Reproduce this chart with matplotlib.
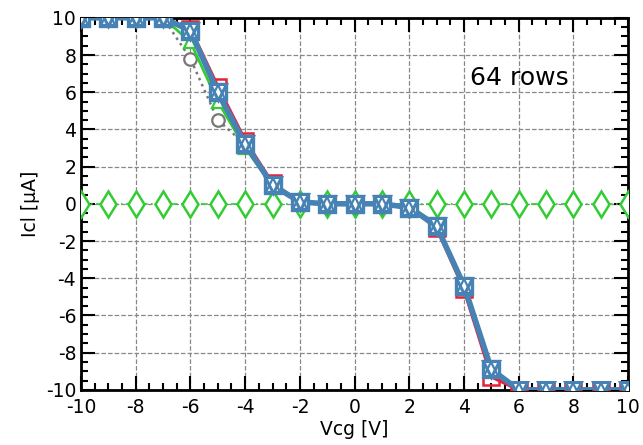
import matplotlib
matplotlib.use("Agg")
import matplotlib.pyplot as plt
from matplotlib.ticker import MultipleLocator
import numpy as np

plt.rcParams["axes.unicode_minus"] = False

vcg = [-10, -9, -8, -7, -6, -5, -4, -3, -2, -1, 0, 1, 2, 3, 4, 5, 6, 7, 8, 9, 10]
icl_red = [10, 10, 10, 10, 9.4, 6.3, 3.4, 1.1, 0.1, 0, 0, 0, -0.2, -1.3, -4.6, -9.3, -10, -10, -10, -10, -10]
icl_green = [10, 10, 10, 10, 8.7, 5.5, 3.0, 1.0, 0.1, 0, 0, 0, -0.1, -1.1, -4.3, -8.9, -10, -10, -10, -10, -10]
icl_gray = [10, 10, 10, 10, 7.8, 4.5, 3.2, 1.0, 0.1, 0, 0, 0, -0.2, -1.2, -4.4, -8.9, -10, -10, -10, -10, -10]
icl_blue = [10, 10, 10, 10, 9.3, 6.0, 3.2, 1.0, 0.1, 0, 0, 0, -0.2, -1.2, -4.4, -8.9, -10, -10, -10, -10, -10]
icl_blue_sq = [10, 10, 10, 10, 9.3, 6.0, 3.2, 1.0, 0.1, 0, 0, 0, -0.2, -1.2, -4.4, -8.9, None, None, None, None, None]
icl_zero = [0] * 21

sq = np.array([np.nan if v is None else v for v in icl_blue_sq], dtype=float)

fig = plt.figure(figsize=(6.43, 4.45), dpi=100)
ax = fig.add_axes([0.126, 0.124, 0.851, 0.836])

ax.plot(vcg, icl_zero, color="#33cc33", ls=(0, (4, 2, 1, 2)), lw=1.2, marker="d",
        ms=13, mfc="white", mec="#33cc33", mew=1.8, zorder=3)
ax.plot(vcg, icl_gray, color="#777777", ls=":", lw=1.8, marker="o",
        ms=9, mfc="white", mec="#777777", mew=1.6, zorder=3)
ax.plot(vcg, icl_red, color="#e8203a", lw=2.5, marker="s",
        ms=11, mfc="none", mec="#e8203a", mew=1.8, zorder=4)
ax.plot(vcg, icl_green, color="#33cc33", lw=2.0, marker="^",
        ms=9, mfc="white", mec="#33cc33", mew=1.6, zorder=4)
ax.plot(vcg, icl_blue, color="#4682b4", lw=4.0, zorder=5)
ax.plot(vcg, sq, lw=0, marker="s",
        ms=12, mfc="white", mec="#4682b4", mew=2.4, zorder=6)
ax.plot(vcg, icl_blue, lw=0, marker="v",
        ms=11, mfc="white", mec="#4682b4", mew=2.2, zorder=7)
ax.plot(vcg, icl_blue, lw=0, marker="^",
        ms=10, mfc="none", mec="#4682b4", mew=1.6, zorder=7)

ax.set_xlim(-10, 10)
ax.set_ylim(-10, 10)
ax.xaxis.set_major_locator(MultipleLocator(2))
ax.xaxis.set_minor_locator(MultipleLocator(0.5))
ax.yaxis.set_major_locator(MultipleLocator(2))
ax.yaxis.set_minor_locator(MultipleLocator(0.5))
ax.tick_params(which="both", direction="in", top=True, right=True, labelsize=13.5, width=1.5)
ax.tick_params(which="major", length=10)
ax.tick_params(which="minor", length=5)
ax.tick_params(axis="x", which="major", pad=6)
for s in ax.spines.values():
    s.set_linewidth(2)
ax.grid(True, which="major", ls="--", color="#888888", lw=0.9)
ax.set_axisbelow(True)
ax.set_xlabel("Vcg [V]", fontsize=13.5, labelpad=2)
ax.set_ylabel("Icl [µA]", fontsize=13.5)
ax.text(0.71, 0.82, "64 rows", transform=ax.transAxes, fontsize=18)

fig.savefig("out.png", dpi=100)
